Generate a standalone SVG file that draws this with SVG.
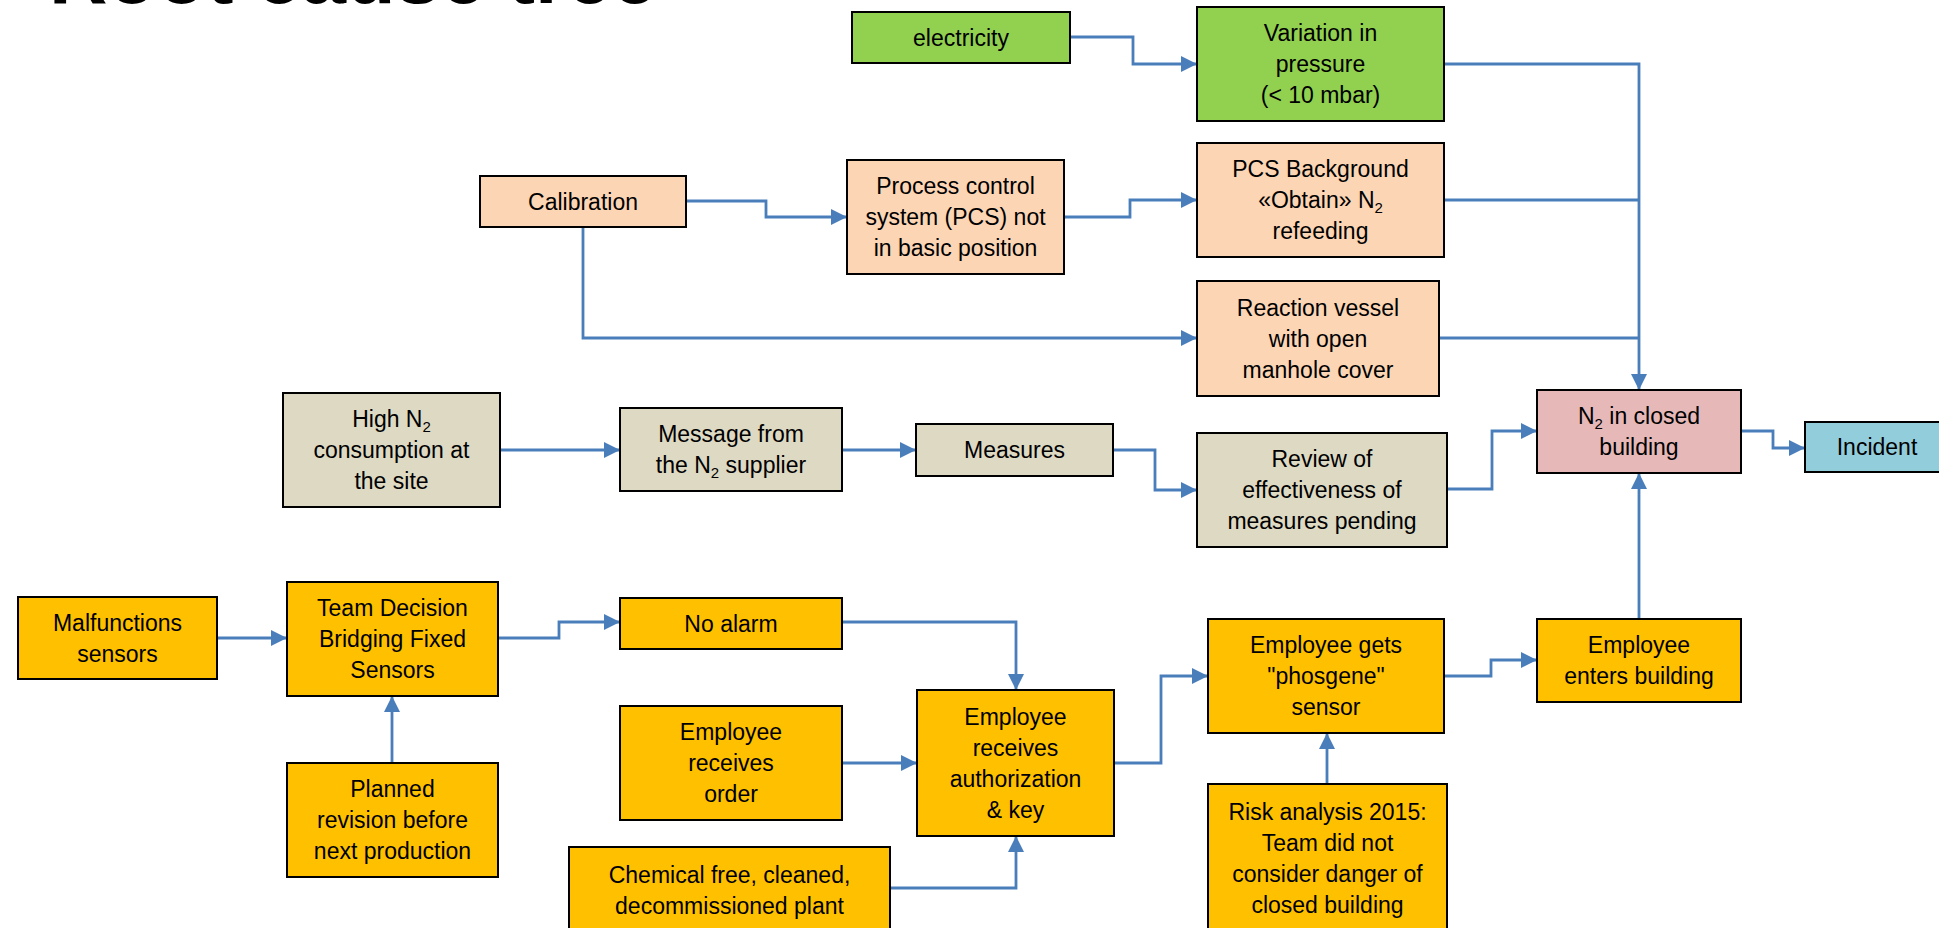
<svg xmlns="http://www.w3.org/2000/svg" width="1939" height="928" viewBox="0 0 1939 928">
<style>
.b{stroke:#000;stroke-width:2}
.g{fill:#92D050}.p{fill:#FCD5B5}.k{fill:#DDD9C3}.r{fill:#E6B9B8}.a{fill:#92CDDC}.y{fill:#FFC000}
text{font-family:"Liberation Sans",Arial,sans-serif;font-size:23px;fill:#000;text-anchor:middle}
.c path{fill:none;stroke:#4A7EBB;stroke-width:2.8}
.s{font-size:15px}
</style>
<defs>
<marker id="ar" viewBox="0 0 10 10" refX="10" refY="5" markerWidth="16" markerHeight="16" markerUnits="userSpaceOnUse" orient="auto">
<path d="M0,0 L10,5 L0,10 z" fill="#4A7EBB"/>
</marker>
</defs>
<rect width="1939" height="928" fill="#fff"/>
<text x="49" y="3" style="font-size:81px;font-weight:bold;text-anchor:start">Root cause tree</text>

<g class="c">
<path d="M1070,37 H1133 V64 H1197" marker-end="url(#ar)"/>
<path d="M686,201 H766 V217 H847" marker-end="url(#ar)"/>
<path d="M1064,217 H1130 V200 H1197" marker-end="url(#ar)"/>
<path d="M583,227 V338 H1197" marker-end="url(#ar)"/>
<path d="M1444,64 H1639 V390" marker-end="url(#ar)"/>
<path d="M1444,200 H1639"/>
<path d="M1439,338 H1639"/>
<path d="M500,450 H620" marker-end="url(#ar)"/>
<path d="M842,450 H916" marker-end="url(#ar)"/>
<path d="M1113,450 H1155 V490 H1197" marker-end="url(#ar)"/>
<path d="M1447,489 H1492 V431 H1537" marker-end="url(#ar)"/>
<path d="M1741,431 H1773 V448 H1805" marker-end="url(#ar)"/>
<path d="M217,638 H287" marker-end="url(#ar)"/>
<path d="M498,638 H559 V622 H620" marker-end="url(#ar)"/>
<path d="M392,763 V696" marker-end="url(#ar)"/>
<path d="M842,622 H1016 V690" marker-end="url(#ar)"/>
<path d="M842,763 H917" marker-end="url(#ar)"/>
<path d="M890,888 H1016 V836" marker-end="url(#ar)"/>
<path d="M1114,763 H1161 V676 H1208" marker-end="url(#ar)"/>
<path d="M1327,784 V733" marker-end="url(#ar)"/>
<path d="M1444,676 H1491 V660 H1537" marker-end="url(#ar)"/>
<path d="M1639,619 V473" marker-end="url(#ar)"/>
</g>

<g id="electricity"><rect class="b g" x="852" y="12" width="218" height="51"/><text x="961" y="45.5">electricity</text></g>
<g id="variation"><rect class="b g" x="1197" y="7" width="247" height="114"/><text x="1320.5" y="41">Variation in</text><text x="1320.5" y="72">pressure</text><text x="1320.5" y="103">(&lt; 10 mbar)</text></g>
<g id="calibration"><rect class="b p" x="480" y="176" width="206" height="51"/><text x="583" y="209.5">Calibration</text></g>
<g id="pcs"><rect class="b p" x="847" y="160" width="217" height="114"/><text x="955.5" y="194">Process control</text><text x="955.5" y="225">system (PCS) not</text><text x="955.5" y="256">in basic position</text></g>
<g id="pcsbg"><rect class="b p" x="1197" y="143" width="247" height="114"/><text x="1320.5" y="177">PCS Background</text><text x="1320.5" y="208">«Obtain» N<tspan class="s" dy="5">2</tspan></text><text x="1320.5" y="239">refeeding</text></g>
<g id="reaction"><rect class="b p" x="1197" y="281" width="242" height="115"/><text x="1318" y="315.5">Reaction vessel</text><text x="1318" y="346.5">with open</text><text x="1318" y="377.5">manhole cover</text></g>
<g id="highn2"><rect class="b k" x="283" y="393" width="217" height="114"/><text x="391.5" y="427">High N<tspan class="s" dy="5">2</tspan></text><text x="391.5" y="458">consumption at</text><text x="391.5" y="489">the site</text></g>
<g id="message"><rect class="b k" x="620" y="408" width="222" height="83"/><text x="731" y="442">Message from</text><text x="731" y="473">the N<tspan class="s" dy="5">2</tspan><tspan dy="-5"> supplier</tspan></text></g>
<g id="measures"><rect class="b k" x="916" y="424" width="197" height="52"/><text x="1014.5" y="458">Measures</text></g>
<g id="review"><rect class="b k" x="1197" y="433" width="250" height="114"/><text x="1322" y="467">Review of</text><text x="1322" y="498">effectiveness of</text><text x="1322" y="529">measures pending</text></g>
<g id="n2building"><rect class="b r" x="1537" y="390" width="204" height="83"/><text x="1639" y="424">N<tspan class="s" dy="5">2</tspan><tspan dy="-5"> in closed</tspan></text><text x="1639" y="455">building</text></g>
<g id="incident"><rect class="b a" x="1805" y="422" width="145" height="50"/><text x="1877" y="455">Incident</text></g>
<g id="malfunctions"><rect class="b y" x="18" y="597" width="199" height="82"/><text x="117.5" y="630.5">Malfunctions</text><text x="117.5" y="661.5">sensors</text></g>
<g id="team"><rect class="b y" x="287" y="582" width="211" height="114"/><text x="392.5" y="616">Team Decision</text><text x="392.5" y="647">Bridging Fixed</text><text x="392.5" y="678">Sensors</text></g>
<g id="noalarm"><rect class="b y" x="620" y="598" width="222" height="51"/><text x="731" y="631.5">No alarm</text></g>
<g id="order"><rect class="b y" x="620" y="706" width="222" height="114"/><text x="731" y="740">Employee</text><text x="731" y="771">receives</text><text x="731" y="802">order</text></g>
<g id="auth"><rect class="b y" x="917" y="690" width="197" height="146"/><text x="1015.5" y="724.5">Employee</text><text x="1015.5" y="755.5">receives</text><text x="1015.5" y="786.5">authorization</text><text x="1015.5" y="817.5">&amp; key</text></g>
<g id="chemical"><rect class="b y" x="569" y="847" width="321" height="86"/><text x="729.5" y="882.5">Chemical free, cleaned,</text><text x="729.5" y="913.5">decommissioned plant</text></g>
<g id="planned"><rect class="b y" x="287" y="763" width="211" height="114"/><text x="392.5" y="797">Planned</text><text x="392.5" y="828">revision before</text><text x="392.5" y="859">next production</text></g>
<g id="phosgene"><rect class="b y" x="1208" y="619" width="236" height="114"/><text x="1326" y="653">Employee gets</text><text x="1326" y="684">"phosgene"</text><text x="1326" y="715">sensor</text></g>
<g id="enters"><rect class="b y" x="1537" y="619" width="204" height="83"/><text x="1639" y="653">Employee</text><text x="1639" y="684">enters building</text></g>
<g id="risk"><rect class="b y" x="1208" y="784" width="239" height="148"/><text x="1327.5" y="820">Risk analysis 2015:</text><text x="1327.5" y="851">Team did not</text><text x="1327.5" y="882">consider danger of</text><text x="1327.5" y="913">closed building</text></g>
</svg>
